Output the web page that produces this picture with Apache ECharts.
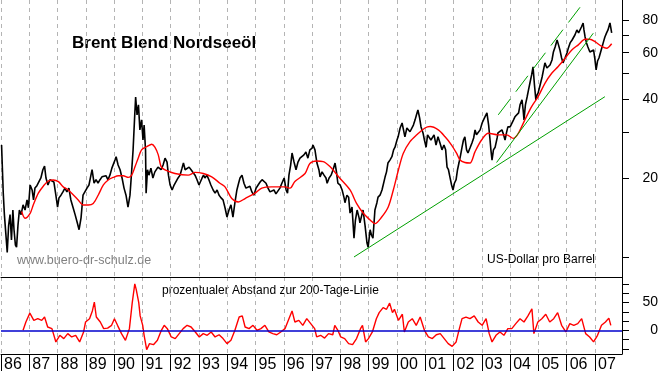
<!DOCTYPE html>
<html>
<head>
<meta charset="utf-8">
<script src="https://cdn.jsdelivr.net/npm/echarts@6/dist/echarts.min.js"></script>
<style>
html,body{margin:0;padding:0;background:#fff;}
#c{width:663px;height:373px;}
</style>
</head>
<body>
<div id="c"></div>
<script>
// Brent price, USD per barrel: [decimal year, price]
const brentPrice = [
[1986.02,26.7],[1986.08,17.5],[1986.12,14.5],[1986.17,12.3],[1986.22,10.4],[1986.27,13.2],[1986.32,14.5],[1986.37,11.6],[1986.42,15.1],[1986.46,12.7],[1986.51,11.1],[1986.55,10.9],[1986.60,13.2],[1986.65,15.1],[1986.71,14.5],[1986.78,15.8],[1986.85,15.1],[1986.92,16.5],[1986.97,15.4],
[1987.03,18.8],[1987.10,18.0],[1987.15,16.5],[1987.20,18.3],[1987.27,18.7],[1987.34,18.8],[1987.41,20.0],[1987.48,21.5],[1987.54,22.2],[1987.59,20.0],[1987.66,18.8],[1987.73,19.7],[1987.80,19.7],[1987.87,19.3],[1987.94,17.2],
[1988.00,15.5],[1988.05,16.8],[1988.12,17.2],[1988.19,17.7],[1988.26,18.3],[1988.33,17.7],[1988.40,18.3],[1988.47,16.5],[1988.55,15.4],[1988.62,14.5],[1988.69,13.6],[1988.76,12.7],[1988.83,14.1],[1988.90,17.2],[1988.97,17.5],
[1989.04,18.3],[1989.11,18.8],[1989.18,20.5],[1989.22,21.5],[1989.29,19.1],[1989.36,19.7],[1989.43,19.1],[1989.50,19.7],[1989.57,20.2],[1989.64,20.0],[1989.71,20.4],[1989.78,19.7],[1989.85,20.5],[1989.92,21.8],
[1990.03,23.4],[1990.07,24.1],[1990.14,22.4],[1990.21,21.5],[1990.28,20.0],[1990.35,18.3],[1990.42,17.2],[1990.49,15.5],[1990.56,17.2],[1990.61,20.5],[1990.67,25.6],[1990.72,33.3],[1990.76,40.7],[1990.81,34.8],[1990.86,38.0],[1990.91,30.5],[1990.97,33.3],
[1991.02,27.9],[1991.06,31.8],[1991.11,25.6],[1991.13,17.5],[1991.18,21.5],[1991.23,20.5],[1991.30,21.8],[1991.37,20.0],[1991.44,21.1],[1991.55,22.0],[1991.66,21.5],[1991.73,22.4],[1991.80,23.8],[1991.87,23.0],[1991.92,20.5],[1991.98,18.8],
[1992.05,18.0],[1992.12,18.8],[1992.19,19.1],[1992.26,20.0],[1992.33,20.5],[1992.40,21.8],[1992.45,22.8],[1992.51,21.5],[1992.58,21.8],[1992.65,22.0],[1992.72,21.5],[1992.79,21.8],[1992.86,20.5],[1992.93,19.7],
[1993.00,18.8],[1993.05,18.5],[1993.11,20.0],[1993.16,20.5],[1993.21,20.0],[1993.28,20.5],[1993.35,19.7],[1993.42,18.8],[1993.50,18.0],[1993.57,17.5],[1993.64,18.0],[1993.71,17.2],[1993.78,16.8],[1993.85,16.5],[1993.92,15.4],[1993.99,14.2],
[1994.06,15.1],[1994.13,15.8],[1994.20,14.2],[1994.27,16.1],[1994.34,18.0],[1994.40,19.1],[1994.45,20.0],[1994.52,20.5],[1994.59,19.1],[1994.66,18.3],[1994.73,18.0],[1994.80,18.6],[1994.87,17.7],[1994.94,17.2],
[1995.02,18.3],[1995.09,18.8],[1995.16,19.3],[1995.23,19.7],[1995.30,20.0],[1995.37,19.1],[1995.44,18.3],[1995.51,17.7],[1995.58,17.5],[1995.65,18.0],[1995.72,17.4],[1995.79,17.2],[1995.86,18.3],[1995.93,19.1],
[1996.01,20.0],[1996.08,18.0],[1996.13,17.5],[1996.18,20.5],[1996.24,22.4],[1996.29,24.9],[1996.36,23.0],[1996.43,21.5],[1996.50,23.0],[1996.57,23.8],[1996.64,23.4],[1996.71,24.5],[1996.78,25.1],[1996.85,23.8],[1996.92,25.6],
[1997.00,26.0],[1997.03,26.7],[1997.10,25.6],[1997.17,22.8],[1997.24,21.5],[1997.28,20.2],[1997.35,21.1],[1997.42,20.5],[1997.49,20.0],[1997.53,19.1],[1997.60,20.0],[1997.67,20.5],[1997.74,21.5],[1997.81,22.8],[1997.86,21.1],[1997.91,19.1],[1997.99,18.8],
[1998.06,18.0],[1998.13,16.8],[1998.16,16.1],[1998.23,17.2],[1998.29,16.9],[1998.34,14.7],[1998.41,15.5],[1998.48,11.8],[1998.53,13.8],[1998.59,15.1],[1998.66,14.1],[1998.69,13.5],[1998.76,14.5],[1998.80,15.1],[1998.87,13.2],[1998.94,11.3],[1998.98,10.9],
[1999.05,12.7],[1999.10,12.1],[1999.15,11.8],[1999.22,15.1],[1999.29,16.1],[1999.33,16.9],[1999.40,17.2],[1999.47,18.0],[1999.58,20.2],[1999.63,21.1],[1999.68,22.8],[1999.75,23.4],[1999.82,24.1],[1999.88,25.6],[1999.93,26.2],
[2000.00,27.9],[2000.04,28.7],[2000.11,31.0],[2000.18,32.4],[2000.23,30.5],[2000.28,28.7],[2000.35,31.0],[2000.39,31.3],[2000.46,30.0],[2000.53,29.7],[2000.58,31.8],[2000.64,33.3],[2000.69,34.8],[2000.74,36.3],[2000.80,33.9],[2000.85,31.3],[2000.92,29.7],[2000.97,27.9],
[2001.03,26.2],[2001.08,29.2],[2001.13,29.7],[2001.20,27.9],[2001.24,27.9],[2001.31,29.2],[2001.38,26.7],[2001.45,28.7],[2001.52,27.2],[2001.59,25.6],[2001.66,26.7],[2001.72,25.6],[2001.77,22.0],[2001.82,21.5],[2001.87,20.2],[2001.93,18.8],[2001.98,18.0],
[2002.03,19.1],[2002.09,19.7],[2002.14,21.5],[2002.19,22.8],[2002.25,24.5],[2002.30,26.2],[2002.35,27.9],[2002.40,28.7],[2002.46,25.6],[2002.51,24.9],[2002.58,26.0],[2002.65,27.2],[2002.71,28.4],[2002.76,30.5],[2002.81,29.2],[2002.86,28.7],[2002.94,30.5],
[2003.01,32.4],[2003.06,33.3],[2003.11,34.2],[2003.18,35.4],[2003.24,31.8],[2003.29,27.9],[2003.32,25.6],[2003.36,23.4],[2003.41,25.6],[2003.47,26.2],[2003.54,28.4],[2003.57,29.7],[2003.64,29.2],[2003.71,30.5],[2003.77,29.2],[2003.82,27.9],[2003.87,29.7],[2003.92,31.3],
[2004.00,31.3],[2004.07,31.8],[2004.12,33.3],[2004.17,34.2],[2004.24,33.9],[2004.30,35.4],[2004.35,38.0],[2004.42,39.7],[2004.46,36.3],[2004.49,33.3],[2004.54,38.0],[2004.60,40.7],[2004.65,43.3],[2004.70,46.0],[2004.76,49.4],[2004.81,53.0],[2004.86,45.2],[2004.91,39.7],[2004.95,41.4],[2004.99,42.2],
[2005.06,45.2],[2005.13,48.5],[2005.18,51.6],[2005.23,54.9],[2005.30,52.5],[2005.36,51.6],[2005.41,53.9],[2005.48,56.3],[2005.53,60.4],[2005.59,63.1],[2005.66,67.1],[2005.71,64.3],[2005.76,61.5],[2005.82,57.3],[2005.87,54.9],[2005.94,57.3],
[2006.01,59.9],[2006.06,62.6],[2006.12,65.4],[2006.19,67.1],[2006.24,66.0],[2006.29,70.1],[2006.36,73.3],[2006.42,71.4],[2006.47,72.0],[2006.52,75.2],[2006.58,77.9],[2006.61,73.3],[2006.65,68.9],[2006.70,65.4],[2006.75,63.1],[2006.82,60.4],[2006.89,59.9],[2006.95,61.5],
[2007.00,56.3],[2007.04,51.6],[2007.09,55.8],[2007.14,57.3],[2007.20,60.4],[2007.25,63.1],[2007.30,66.0],[2007.35,68.9],[2007.41,71.4],[2007.46,73.3],[2007.50,75.9],[2007.53,77.9],[2007.57,76.6],[2007.59,71.4]
];

// 200-day moving average: [decimal year, price]
const movingAvg200 = [
[1986.73,14.9],[1986.85,14.05],[1987.03,14.67],[1987.14,15.78],[1987.32,17.5],[1987.50,18.65],[1987.67,19.48],[1987.85,19.65],[1988.03,19.36],[1988.20,18.5],[1988.38,18.0],[1988.56,17.23],[1988.73,16.49],[1988.91,15.78],
[1989.09,15.78],[1989.26,16.0],[1989.44,17.23],[1989.62,18.81],[1989.79,19.65],[1989.97,20.1],[1990.15,20.4],[1990.32,20.4],[1990.50,20.1],[1990.62,20.5],[1990.74,22.1],[1990.85,23.8],[1990.97,25.6],
[1991.15,26.3],[1991.33,26.9],[1991.44,26.2],[1991.56,24.5],[1991.66,22.1],[1991.80,21.45],[1992.15,20.8],[1992.62,20.5],[1992.86,21.0],[1993.15,20.8],[1993.45,20.2],[1993.74,19.1],[1993.92,18.5],
[1994.16,16.7],[1994.39,16.2],[1994.63,16.7],[1994.98,17.5],[1995.22,18.3],[1995.57,18.5],[1996.04,18.5],[1996.22,18.3],[1996.39,19.4],[1996.75,20.8],[1996.92,22.7],[1997.16,23.2],[1997.39,23.1],[1997.63,22.1],[1997.98,19.95],
[1998.34,18.0],[1998.57,16.0],[1998.81,14.67],[1999.05,13.84],[1999.22,13.4],[1999.46,14.2],[1999.69,15.5],[1999.87,18.0],[2000.05,21.45],[2000.22,24.8],[2000.46,27.5],[2000.70,29.2],[2000.99,31.0],
[2001.17,31.4],[2001.46,30.5],[2001.70,28.7],[2001.93,26.7],[2002.11,24.8],[2002.23,23.4],[2002.40,22.9],[2002.58,22.8],[2002.76,25.2],[2002.99,27.9],[2003.23,29.6],[2003.58,29.2],[2003.88,29.2],
[2004.11,28.3],[2004.29,29.6],[2004.52,33.3],[2004.76,37.4],[2004.99,40.8],[2005.23,45.9],[2005.47,50.1],[2005.70,53.2],[2005.94,57.1],[2006.18,61.5],[2006.41,64.3],[2006.65,67.5],[2006.82,67.5],
[2007.00,66.1],[2007.24,63.4],[2007.41,62.4],[2007.59,64.9]
];

// Percentage distance from the 200-day line: [decimal year, percent]
const pctDistance = [
[1986.78,0],[1986.88,15],[1987.02,31],[1987.16,18],[1987.30,21],[1987.44,18],[1987.54,24],[1987.65,6],[1987.80,3],[1987.94,-21],
[1988.08,-9],[1988.22,-15],[1988.36,-6],[1988.50,-12],[1988.64,-9],[1988.78,-21],[1988.92,-3],[1988.99,15],
[1989.13,21],[1989.23,35],[1989.30,51],[1989.37,24],[1989.51,15],[1989.63,3],[1989.77,4],[1989.91,9],
[1990.01,21],[1990.12,9],[1990.26,-6],[1990.40,-18],[1990.47,-21],[1990.54,3],[1990.64,50],[1990.73,84],[1990.78,74],[1990.87,50],[1990.92,26],
[1991.01,9],[1991.06,-9],[1991.15,-35],[1991.25,-24],[1991.39,-26],[1991.53,-18],[1991.67,0],[1991.77,9],[1991.88,3],
[1992.02,-12],[1992.16,-15],[1992.30,-6],[1992.44,3],[1992.58,9],[1992.72,6],[1992.87,-3],
[1993.01,-12],[1993.15,-6],[1993.29,-9],[1993.43,-3],[1993.57,-12],[1993.71,-8],[1993.85,-15],[1993.99,-24],
[1994.13,-18],[1994.27,0],[1994.42,24],[1994.53,26],[1994.63,6],[1994.77,3],[1994.91,9],
[1995.05,0],[1995.19,3],[1995.33,9],[1995.47,-3],[1995.61,-6],[1995.75,-8],[1995.89,-3],
[1996.04,3],[1996.18,21],[1996.29,35],[1996.39,15],[1996.53,18],[1996.67,9],[1996.81,21],[1996.95,12],
[1997.09,3],[1997.16,-12],[1997.30,-9],[1997.44,-14],[1997.58,-6],[1997.73,-8],[1997.80,9],[1997.91,0],
[1998.01,-12],[1998.15,-15],[1998.29,-24],[1998.43,-26],[1998.57,-15],[1998.71,3],[1998.78,9],[1998.89,-21],[1998.99,-15],
[1999.13,-3],[1999.27,21],[1999.37,32],[1999.51,41],[1999.63,38],[1999.74,49],[1999.84,32],[1999.91,38],
[2000.05,18],[2000.19,29],[2000.26,-3],[2000.40,15],[2000.54,21],[2000.68,9],[2000.82,24],[2000.97,0],
[2001.11,-12],[2001.25,-15],[2001.39,-8],[2001.53,-6],[2001.67,-15],[2001.81,-24],[2001.95,-29],
[2002.09,-21],[2002.19,0],[2002.30,21],[2002.44,24],[2002.58,21],[2002.73,26],[2002.87,15],
[2003.01,9],[2003.15,21],[2003.26,-6],[2003.36,-21],[2003.50,-9],[2003.64,-3],[2003.78,-9],[2003.92,3],
[2004.06,3],[2004.20,12],[2004.35,21],[2004.49,15],[2004.63,26],[2004.77,39],[2004.84,-6],[2004.98,15],
[2005.12,21],[2005.26,29],[2005.40,15],[2005.54,21],[2005.68,32],[2005.82,9],[2005.97,-3],
[2006.11,12],[2006.25,9],[2006.39,12],[2006.53,21],[2006.67,-6],[2006.81,-12],[2006.95,-21],
[2007.09,-9],[2007.23,9],[2007.37,15],[2007.49,22],[2007.56,9]
];

// Trend lines drawn on the chart (end points, [decimal year, price])
const supportLine = [[1998.48,10.0],[2007.35,40.8]];
const steepLine   = [[2003.52,22.9],[2006.94,71.2]];
const channelLine = [[2003.58,34.8],[2006.47,89.4]];

// Axis ticks and labels
const yearTicks  = [1986,1987,1988,1989,1990,1991,1992,1993,1994,1995,1996,1997,1998,1999,2000,2001,2002,2003,2004,2005,2006,2007];
const yearLabels = ['86','87','88','89','90','91','92','93','94','95','96','97','98','99','00','01','02','03','04','05','06','07'];
const priceTicks  = [10,20,30,40,50,60,70,80];
const priceLabels = [20,40,60,80];
const pctTicks  = [-33.33,-16.67,0,16.67,33.33,50,66.67,83.33];
const pctLabels = [0,50];

const FONT = 'Liberation Sans, Arial, sans-serif';
const GRID_COLOR = '#b4b4b4';

const chart = echarts.init(document.getElementById('c'), null, {renderer:'canvas'});

const xBase = {
  type:'value', min:1986, max:2007.955, interval:1,
  axisLine:{show:true, onZero:false, lineStyle:{color:'#000', width:1}},
  splitLine:{show:true, lineStyle:{color:GRID_COLOR, type:[4,4], width:1}}
};

chart.setOption({
  animation:false,
  backgroundColor:'#fff',
  grid:[
    {left:1, right:41, top:0, height:277},
    {left:1, right:41, top:277, height:79}
  ],
  xAxis:[
    Object.assign({}, xBase, {gridIndex:0, position:'bottom',
      axisTick:{show:false}, axisLabel:{show:false}}),
    Object.assign({}, xBase, {gridIndex:1, position:'bottom',
      axisTick:{show:true, length:17, inside:false, customValues:yearTicks, lineStyle:{color:'#000'}},
      axisLabel:{show:true, customValues:yearTicks, align:'left', margin:3, padding:[0,0,0,3],
        fontFamily:'Liberation Sans Narrow, '+FONT, fontSize:16, color:'#000',
        formatter:(v)=>{const i=yearTicks.indexOf(Math.round(v)); return (i>=0 && Math.abs(v-yearTicks[i])<1e-6)?yearLabels[i]:'';}}})
  ],
  yAxis:[
    {type:'log', gridIndex:0, position:'right', min:8.39, max:95.3, logBase:10,
      axisLine:{show:true, lineStyle:{color:'#000'}},
      axisTick:{show:true, length:7, customValues:priceTicks, lineStyle:{color:'#000'}},
      axisLabel:{show:true, customValues:priceLabels, align:'right', margin:36,
        fontFamily:FONT, fontSize:14, color:'#000', formatter:(v)=>String(Math.round(v))},
      splitLine:{show:false}},
    {type:'value', gridIndex:1, position:'right', min:-42.8, max:96.3,
      axisLine:{show:true, lineStyle:{color:'#000'}},
      axisTick:{show:true, length:7, customValues:pctTicks, lineStyle:{color:'#000'}},
      axisLabel:{show:true, customValues:pctLabels, align:'right', margin:36,
        fontFamily:FONT, fontSize:14, color:'#000', formatter:(v)=>String(Math.round(v))},
      splitLine:{show:false}}
  ],
  series:[
    {name:'Brent', type:'line', xAxisIndex:0, yAxisIndex:0, data:brentPrice, showSymbol:false, symbol:'none',
      lineStyle:{color:'#000', width:1.6}, z:2},
    {name:'200-Tage-Linie', type:'line', xAxisIndex:0, yAxisIndex:0, data:movingAvg200, showSymbol:false, symbol:'none',
      smooth:0.3, lineStyle:{color:'#ff0000', width:1.4}, z:3},
    {name:'Unterstützung', type:'line', xAxisIndex:0, yAxisIndex:0, data:supportLine, showSymbol:false, symbol:'none',
      lineStyle:{color:'#00a000', width:1}, z:4},
    {name:'Trend', type:'line', xAxisIndex:0, yAxisIndex:0, data:steepLine, showSymbol:false, symbol:'none',
      lineStyle:{color:'#00a000', width:1}, z:4},
    {name:'Kanal', type:'line', xAxisIndex:0, yAxisIndex:0, data:channelLine, showSymbol:false, symbol:'none',
      lineStyle:{color:'#00a000', width:1, type:[20,9]}, z:4},
    {name:'Abstand', type:'line', xAxisIndex:1, yAxisIndex:1, data:pctDistance, showSymbol:false, symbol:'none',
      lineStyle:{color:'#ff0000', width:1.4}, z:2,
      markLine:{silent:true, symbol:'none', label:{show:false},
        lineStyle:{color:'#0000cc', width:1.5, type:'solid'},
        data:[{yAxis:0}]}}
  ],
  graphic:[
    {type:'text', left:72, top:35, style:{text:'Brent Blend Nordseeöl', font:'bold 17px '+FONT, fill:'#000'}},
    {type:'text', left:17, top:254, style:{text:'www.buero-dr-schulz.de', font:'12.5px '+FONT, fill:'#808080'}},
    {type:'text', left:487, top:254, style:{text:'US-Dollar pro Barrel', font:'12px '+FONT, fill:'#000'}},
    {type:'text', left:162, top:285, style:{text:'prozentualer Abstand zur 200-Tage-Linie', font:'12px '+FONT, fill:'#000'}}
  ]
});
</script>
</body>
</html>
